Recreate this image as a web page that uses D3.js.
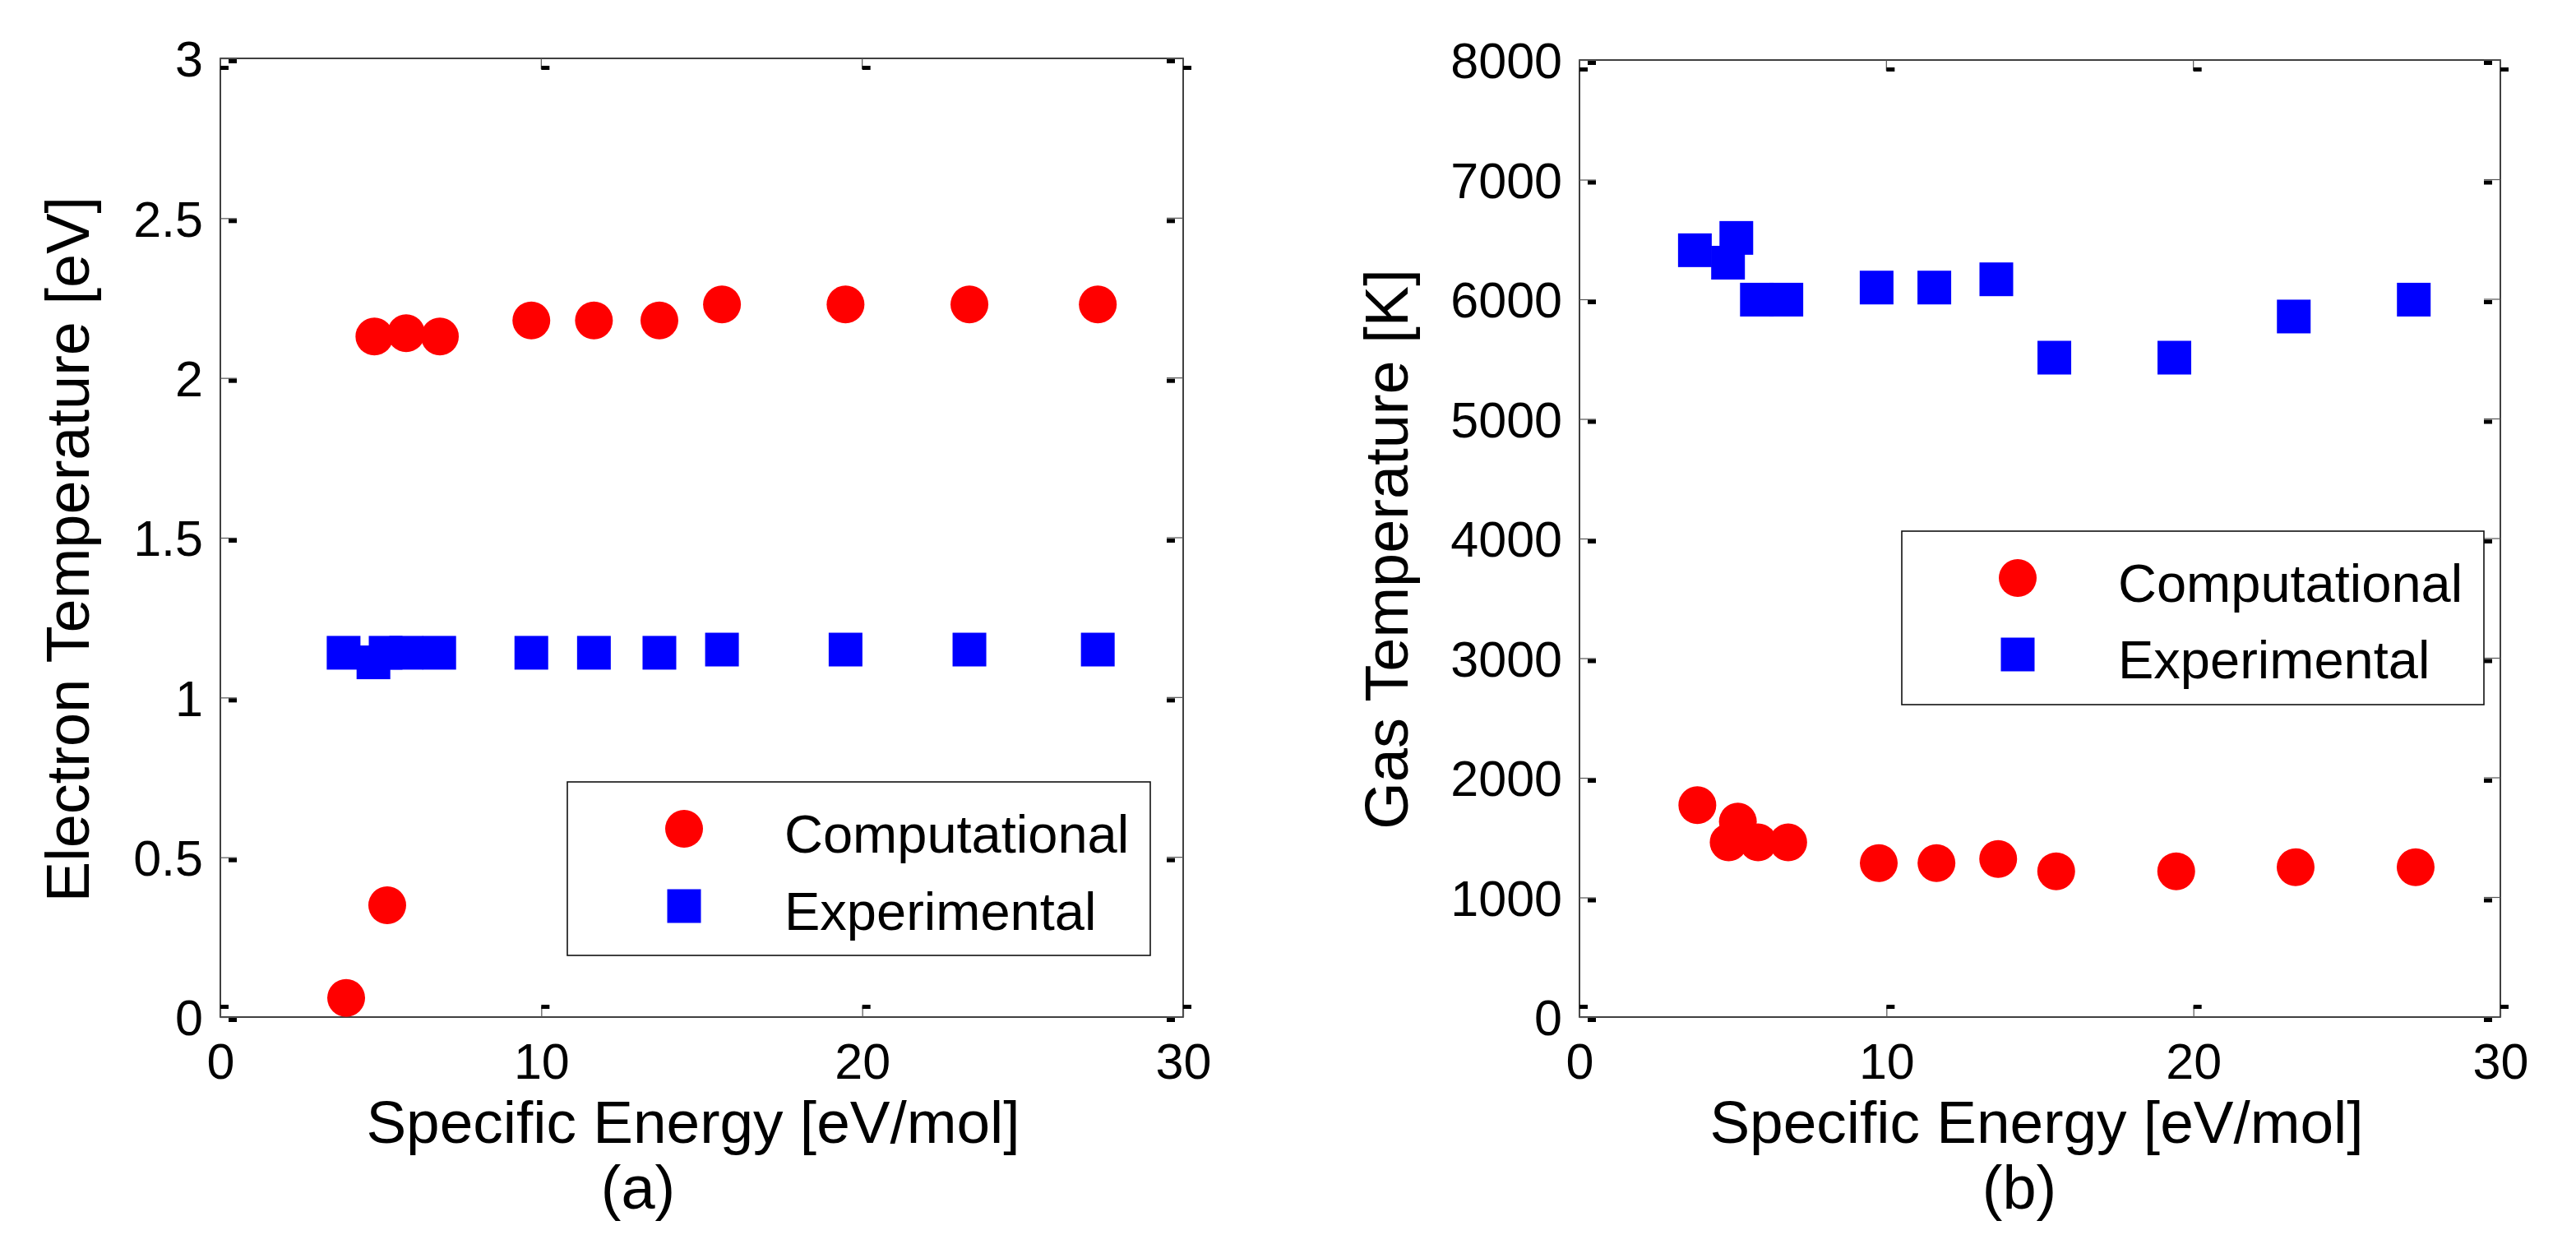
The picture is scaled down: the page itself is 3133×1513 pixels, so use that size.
<!DOCTYPE html>
<html>
<head>
<meta charset="utf-8">
<script src="https://cdnjs.cloudflare.com/ajax/libs/d3/7.8.5/d3.min.js"></script>
<style>
  body { margin: 0; background: #fff; }
  text { font-family: "Liberation Sans", Arial, sans-serif; fill: #000; }
</style>
</head>
<body>
<div id="chart"></div>
<script>
// values
const xTicks = [0, 10, 20, 30];
const yTicksA = [0, 0.5, 1, 1.5, 2, 2.5, 3];
const yTicksB = [0, 1000, 2000, 3000, 4000, 5000, 6000, 7000, 8000];

// (a) electron temperature
const compXA = [3.92, 4.80, 5.20, 5.79, 6.84, 9.69, 11.64, 13.68, 15.63, 19.48, 23.34, 27.34];
const compYA = [0.06, 2.13, 0.35, 2.14, 2.13, 2.18, 2.18, 2.18, 2.23, 2.23, 2.23, 2.23];
const expXA  = [3.84, 4.77, 5.15, 5.79, 6.82, 9.69, 11.64, 13.68, 15.63, 19.48, 23.34, 27.34];
const expYA  = [1.14, 1.11, 1.14, 1.14, 1.14, 1.14, 1.14, 1.14, 1.15, 1.15, 1.15, 1.15];

// (b) gas temperature
const compXB = [3.84, 5.16, 4.86, 5.82, 6.80, 9.75, 11.63, 13.64, 15.53, 19.44, 23.33, 27.24];
const compYB = [1772, 1634, 1461, 1461, 1461, 1287, 1287, 1322, 1219, 1219, 1253, 1253];
const expXB  = [3.76, 4.84, 5.11, 5.78, 6.74, 9.68, 11.56, 13.58, 15.47, 19.38, 23.27, 27.18];
const expYB  = [6410, 6306, 6513, 5997, 5997, 6098, 6098, 6167, 5512, 5512, 5856, 5997];

const seriesNames = ["Computational", "Experimental"];
const xLabel = "Specific Energy [eV/mol]";

const W = 3133, H = 1513;

const svg = d3.select("#chart").append("svg")
  .attr("width", W).attr("height", H)
  .style("background", "#fff");

function panel(cfg) {
  const x = d3.scaleLinear().domain([0, 30]).range([cfg.left, cfg.right]);
  const y = d3.scaleLinear().domain(cfg.yDomain).range([cfg.bottom, cfg.top]);
  const g = svg.append("g");

  // frame
  g.append("rect")
    .attr("x", cfg.left).attr("y", cfg.top)
    .attr("width", cfg.right - cfg.left).attr("height", cfg.bottom - cfg.top)
    .attr("fill", "none").attr("stroke", "#111").attr("stroke-width", 1.6);

  // axes (inward thin ticks)
  const ax = g.append("g").attr("transform", `translate(0,${cfg.bottom})`)
    .call(d3.axisBottom(x).tickValues(xTicks).tickSize(-13).tickFormat(d => String(d)));
  const ay = g.append("g").attr("transform", `translate(${cfg.left},0)`)
    .call(d3.axisLeft(y).tickValues(cfg.yTicks).tickSize(-20).tickFormat(d => String(d)));
  [ax, ay].forEach(a => {
    a.select(".domain").remove();
    a.selectAll("line").attr("stroke", "#555").attr("stroke-width", 1.2);
    a.selectAll("text").style("font-size", "61px").attr("fill", "#000");
  });
  ax.selectAll("text").attr("y", 75).attr("dy", 0);
  ay.selectAll("text").attr("x", -21).attr("dy", "0.36em");

  // mirrored ticks on top and right
  g.selectAll(".tt").data(xTicks).join("line")
    .attr("x1", d => x(d)).attr("x2", d => x(d))
    .attr("y1", cfg.top).attr("y2", cfg.top + 13)
    .attr("stroke", "#555").attr("stroke-width", 1.2);
  g.selectAll(".tr").data(cfg.yTicks).join("line")
    .attr("x1", cfg.right).attr("x2", cfg.right - 20)
    .attr("y1", d => y(d)).attr("y2", d => y(d))
    .attr("stroke", "#555").attr("stroke-width", 1.2);

  // the thick little dashes the export left next to each tick
  const dash = (px, py) => g.append("rect").attr("x", px).attr("y", py)
    .attr("width", 10).attr("height", 5).attr("fill", "#000");
  xTicks.forEach(d => { dash(x(d), cfg.bottom - 15); dash(x(d), cfg.top + 9); });
  cfg.yTicks.forEach(d => { dash(cfg.left + 10, y(d) + 1); dash(cfg.right - 20, y(d) + 1); });

  // markers
  g.selectAll(".comp").data(cfg.compX.map((v, i) => [v, cfg.compY[i]])).join("circle")
    .attr("cx", d => x(d[0])).attr("cy", d => y(d[1])).attr("r", 23).attr("fill", "#ff0000");
  g.selectAll(".exp").data(cfg.expX.map((v, i) => [v, cfg.expY[i]])).join("rect")
    .attr("x", d => x(d[0]) - 20.5).attr("y", d => y(d[1]) - 20.5)
    .attr("width", 41).attr("height", 41).attr("fill", "#0000ff");

  // axis titles
  g.append("text")
    .attr("transform", `translate(${cfg.xlabX},1390)`)
    .attr("text-anchor", "middle").style("font-size", "73px").text(xLabel);
  g.append("text")
    .attr("transform", `translate(${cfg.ylabX},668) rotate(-90)`)
    .attr("text-anchor", "middle").style("font-size", "74px").text(cfg.yLabel);
  g.append("text")
    .attr("transform", `translate(${cfg.tagX},1470)`)
    .attr("text-anchor", "middle").style("font-size", "74px").text(cfg.tag);

  // legend
  const L = cfg.legend;
  g.append("rect").attr("x", L.x0).attr("y", L.y0)
    .attr("width", L.x1 - L.x0).attr("height", L.y1 - L.y0)
    .attr("fill", "#fff").attr("stroke", "#111").attr("stroke-width", 1.6);
  g.append("circle").attr("cx", L.mx).attr("cy", L.r1).attr("r", 23).attr("fill", "#ff0000");
  g.append("rect").attr("x", L.mx - 20.5).attr("y", L.r2 - 20.5)
    .attr("width", 41).attr("height", 41).attr("fill", "#0000ff");
  seriesNames.forEach((s, i) => {
    g.append("text")
      .attr("transform", `translate(${L.tx},${(i ? L.r2 : L.r1) + 29})`)
      .style("font-size", "65px").text(s);
  });
}

panel({
  left: 268, right: 1439, top: 71, bottom: 1237,
  yDomain: [0, 3], yTicks: yTicksA,
  compX: compXA, compY: compYA, expX: expXA, expY: expYA,
  yLabel: "Electron Temperature [eV]", ylabX: 108, xlabX: 843, tagX: 776, tag: "(a)",
  legend: { x0: 690, x1: 1399, y0: 951, y1: 1162, mx: 832, r1: 1008, r2: 1102, tx: 954 }
});

panel({
  left: 1921, right: 3041, top: 73, bottom: 1237,
  yDomain: [0, 8000], yTicks: yTicksB,
  compX: compXB, compY: compYB, expX: expXB, expY: expYB,
  yLabel: "Gas Temperature [K]", ylabX: 1712, xlabX: 2477, tagX: 2456, tag: "(b)",
  legend: { x0: 2313, x1: 3021, y0: 646, y1: 857, mx: 2454, r1: 703, r2: 796, tx: 2576 }
});
</script>
</body>
</html>
